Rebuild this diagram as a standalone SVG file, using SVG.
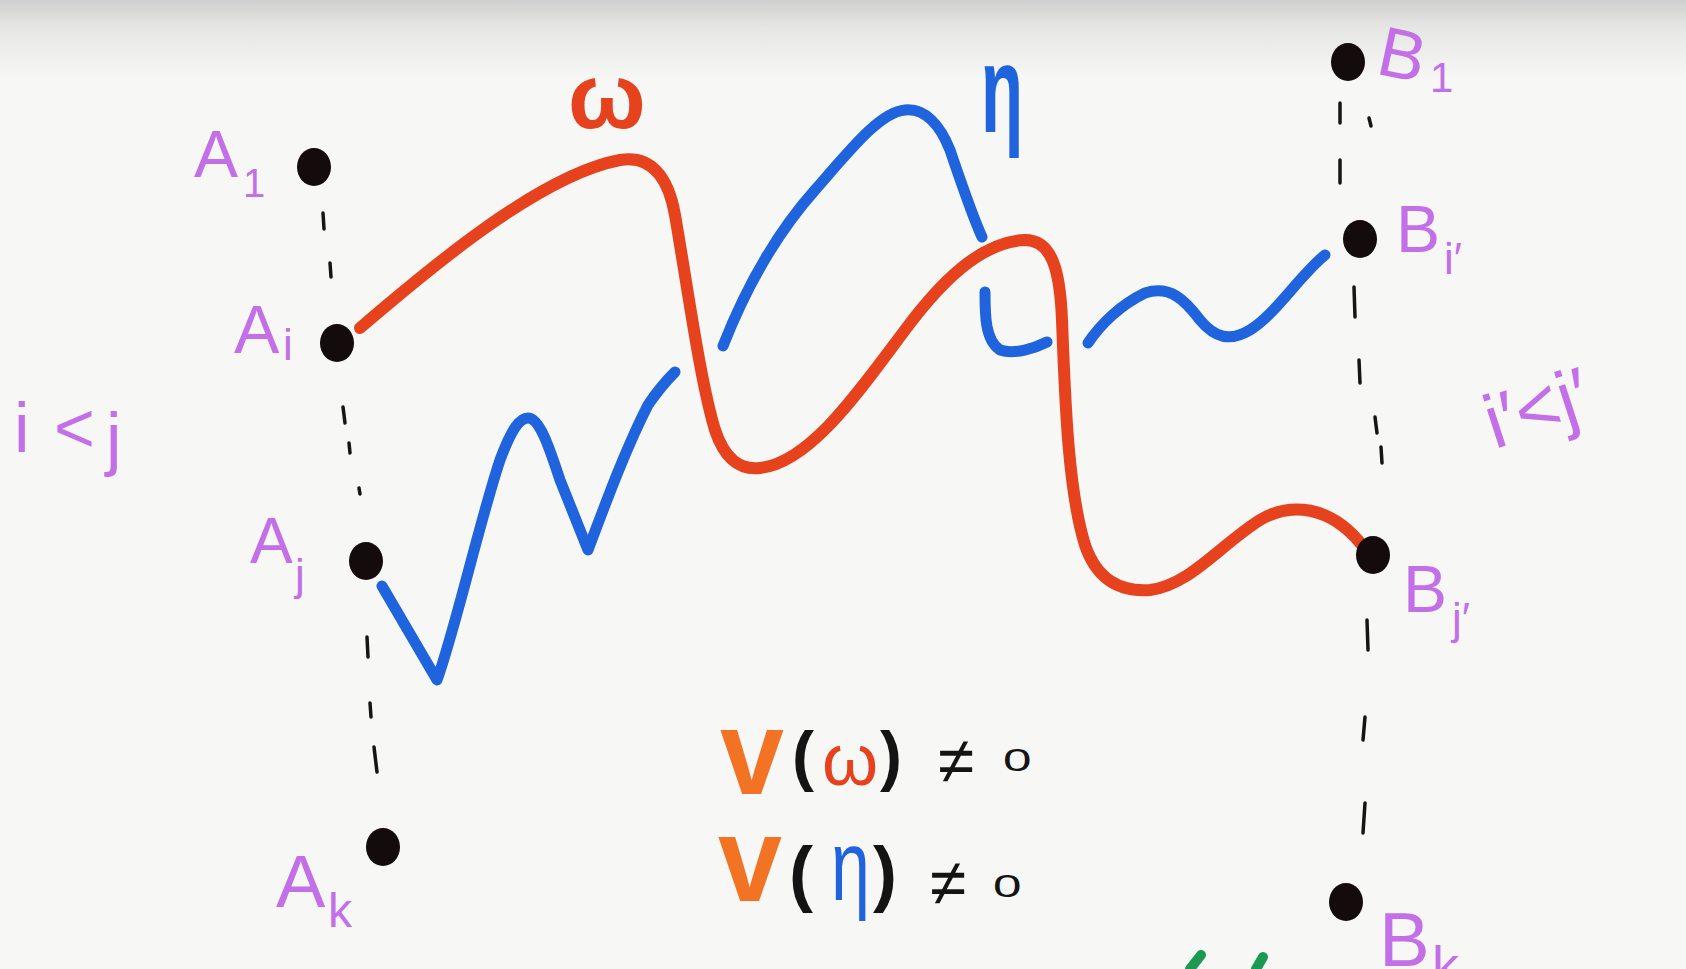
<svg xmlns="http://www.w3.org/2000/svg" width="1686" height="969" viewBox="0 0 1686 969">
<defs>
<linearGradient id="topshade" x1="0" y1="0" x2="0" y2="1">
<stop offset="0" stop-color="#cfcfcf"/>
<stop offset="0.35" stop-color="#e6e6e4"/>
<stop offset="1" stop-color="#f7f7f5"/>
</linearGradient>
</defs>
<style>
.lbl{font-family:"Liberation Sans","DejaVu Sans",sans-serif;fill:#c36fe8;}
.red{fill:none;stroke:#e6421e;stroke-width:12;stroke-linecap:round;stroke-linejoin:round;}
.blue{fill:none;stroke:#1f63dd;stroke-width:11;stroke-linecap:round;stroke-linejoin:round;}
.dash{stroke:#151515;stroke-width:3.5;stroke-linecap:round;fill:none;}
.dot{fill:#140c0c;}
.math{font-family:"Liberation Sans","DejaVu Sans",sans-serif;font-weight:bold;}
.thin{font-family:"Liberation Sans","DejaVu Sans",sans-serif;font-weight:normal;}
</style>
<rect x="0" y="0" width="1686" height="969" fill="#f7f7f5"/>
<rect x="0" y="0" width="1686" height="80" fill="url(#topshade)"/>

<g id="connectors">
<g id="dashes-left">
<line class="dash" x1="323" y1="213" x2="324" y2="229"/>
<line class="dash" x1="330" y1="263" x2="331" y2="277"/>
<line class="dash" x1="343" y1="407" x2="345" y2="423"/>
<line class="dash" x1="349" y1="443" x2="350" y2="453"/>
<line class="dash" x1="359" y1="488" x2="360" y2="494"/>
<line class="dash" x1="367" y1="637" x2="368" y2="657"/>
<line class="dash" x1="370" y1="703" x2="371" y2="717"/>
<line class="dash" x1="374" y1="747" x2="377" y2="772"/>
</g>
<g id="dashes-right">
<line class="dash" x1="1340" y1="103" x2="1340" y2="123"/>
<line class="dash" x1="1369" y1="118" x2="1371" y2="126"/>
<line class="dash" x1="1340" y1="160" x2="1340" y2="183"/>
<line class="dash" x1="1354" y1="287" x2="1355" y2="317"/>
<line class="dash" x1="1359" y1="360" x2="1360" y2="383"/>
<line class="dash" x1="1375" y1="417" x2="1377" y2="433"/>
<line class="dash" x1="1381" y1="447" x2="1382" y2="463"/>
<line class="dash" x1="1367" y1="620" x2="1368" y2="650"/>
<line class="dash" x1="1363" y1="740" x2="1365" y2="717"/>
<line class="dash" x1="1363" y1="833" x2="1365" y2="803"/>
</g>
<path id="omega" class="red" d="M360,328 C430,268 540,175 620,160 C650,155 668,175 675,215 C688,290 700,380 715,430 C725,460 740,470 760,468 C810,463 860,390 905,330 C940,283 980,242 1025,240 C1052,240 1060,270 1062,320 C1065,400 1068,490 1085,545 C1097,580 1120,592 1150,590 C1190,585 1220,545 1260,520 C1290,502 1330,505 1362,545"/>
<g id="eta">
<path class="blue" d="M382,586 L437,680 C455,630 480,520 500,460 C512,428 520,418 528,418 C540,418 550,450 560,480 L588,550 C605,505 625,450 648,405 C658,390 667,380 675,372"/>
<path class="blue" d="M723,346 C745,290 775,235 815,190 C850,150 880,112 905,110 C925,108 940,125 950,150 C962,185 972,215 982,237"/>
<path class="blue" d="M985,292 C985,315 985,340 1000,350 C1015,355 1035,348 1047,342"/>
<path class="blue" d="M1088,343 C1100,325 1120,305 1145,293 C1170,285 1185,300 1200,320 C1215,338 1230,342 1250,330 C1275,315 1300,275 1325,255"/>
</g>
</g>

<g id="A1"><ellipse class="dot" cx="314" cy="167" rx="17" ry="19"/>
<text class="lbl" x="194" y="177" font-size="66">A</text><text class="lbl" x="243" y="197" font-size="40">1</text></g>
<g id="Ai"><ellipse class="dot" cx="337" cy="343" rx="17" ry="19"/>
<text class="lbl" x="234" y="353" font-size="68">A</text><text class="lbl" x="283" y="360" font-size="44">i</text></g>
<g id="Aj"><ellipse class="dot" cx="366" cy="561" rx="17" ry="19"/>
<text class="lbl" x="250" y="563" font-size="64">A</text><text class="lbl" x="295" y="590" font-size="44">j</text></g>
<g id="Ak"><ellipse class="dot" cx="383" cy="847" rx="17" ry="19"/>
<text class="lbl" x="276" y="907" font-size="74">A</text><text class="lbl" x="328" y="927" font-size="48">k</text></g>
<g id="B1"><ellipse class="dot" cx="1348" cy="62" rx="17" ry="19"/>
<text class="lbl" x="1380" y="78" font-size="70" transform="rotate(12 1400 50)">B</text><text class="lbl" x="1430" y="92" font-size="42">1</text></g>
<g id="Bi"><ellipse class="dot" cx="1360" cy="239" rx="17" ry="19"/>
<text class="lbl" x="1396" y="252" font-size="66">B</text><text class="lbl" x="1444" y="274" font-size="44">i′</text></g>
<g id="Bj"><ellipse class="dot" cx="1373" cy="555" rx="17" ry="19"/>
<text class="lbl" x="1403" y="612" font-size="66">B</text><text class="lbl" x="1452" y="634" font-size="44">j′</text></g>
<g id="Bk"><ellipse class="dot" cx="1346" cy="902" rx="17" ry="19"/>
<text class="lbl" x="1379" y="966" font-size="76">B</text><text class="lbl" x="1432" y="984" font-size="54">k</text></g>

<g id="conditions">
<text class="lbl" font-size="70" y="452"><tspan x="14">i</tspan><tspan x="54">&lt;</tspan><tspan x="106" y="462">j</tspan></text>
<text class="lbl" font-size="76" x="1482" y="425" transform="rotate(-18 1565 398)">i′&lt;j′</text>
</g>

<g id="labels">
<text class="math" x="568" y="128" font-size="92" fill="#e6421e">ω</text>
<text class="math" font-size="125" fill="#1f63dd" transform="translate(981,132) scale(0.55,1)">η</text>
</g>

<g id="formula1">
<text class="math" font-size="100" fill="#f27324" transform="translate(720,794) scale(1.15,1.2)">v</text>
<text class="math" x="792" y="778" font-size="66" fill="#141414">(</text>
<text class="thin" x="822" y="785" font-size="72" fill="#e6421e">ω</text>
<text class="math" x="880" y="778" font-size="66" fill="#141414">)</text>
<text class="thin" x="938" y="783" font-size="66" fill="#141414">≠</text>
<text class="thin" font-size="32" fill="#141414" transform="translate(1003,771) scale(1.6,1)">0</text>
</g>
<g id="formula2">
<text class="math" font-size="100" fill="#f27324" transform="translate(718,901) scale(1.15,1.2)">v</text>
<text class="math" x="789" y="898" font-size="72" fill="#141414">(</text>
<text class="thin" font-size="100" fill="#1f63dd" transform="translate(831,900) scale(0.7,1)">η</text>
<text class="math" x="873" y="898" font-size="72" fill="#141414">)</text>
<text class="thin" x="930" y="905" font-size="66" fill="#141414">≠</text>
<text class="thin" font-size="32" fill="#141414" transform="translate(993,897) scale(1.6,1)">0</text>
</g>

<g id="green-marks">
<path d="M1190,969 L1201,955" stroke="#1a9a50" stroke-width="10" stroke-linecap="round" fill="none"/>
<path d="M1256,969 L1263,957" stroke="#1a9a50" stroke-width="10" stroke-linecap="round" fill="none"/>
</g>
</svg>
